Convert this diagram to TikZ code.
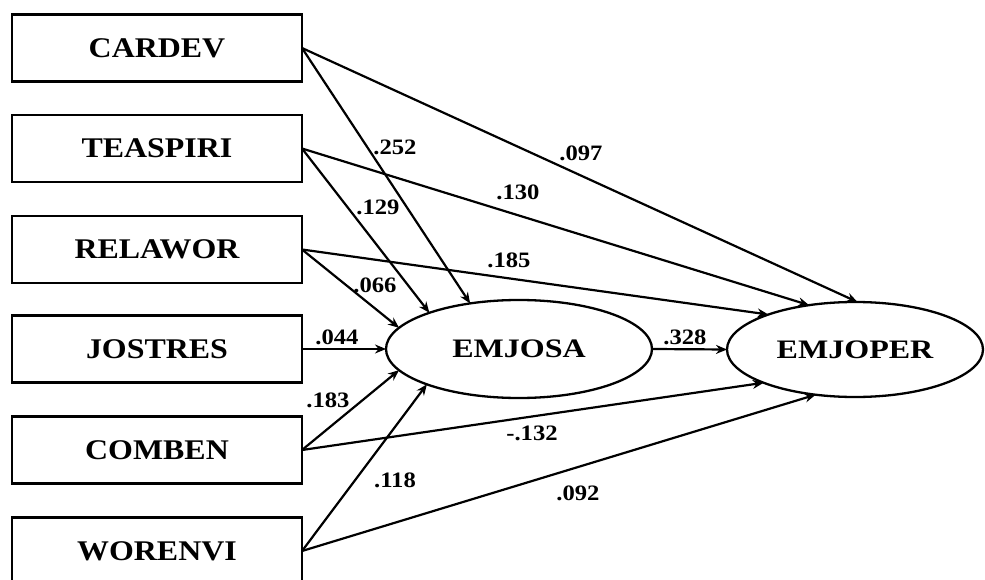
\documentclass[tikz,border=0pt]{standalone}
\usepackage{fontspec}
\usepackage{graphicx}
\setmainfont{Liberation Serif}
\usetikzlibrary{arrows.meta,shapes.geometric}
\tikzset{
  varbox/.style={draw, line width=2.7pt, minimum width=290pt, minimum height=67pt, inner sep=0pt, outer sep=0pt,
     font=\fontsize{28.5}{30}\selectfont\bfseries},
  latent/.style={draw, ellipse, line width=2.3pt, inner sep=0pt, outer sep=0pt,
     font=\fontsize{26.7}{28}\selectfont\bfseries},
  path/.style={line width=2.2pt, -{Stealth[length=11pt,width=9pt]}},
  coef/.style={inner sep=0pt, font=\fontsize{22}{24}\selectfont\bfseries}
}
\newcommand{\wide}[2]{\scalebox{#1}[1]{#2}}
\begin{document}
\begin{tikzpicture}[x=1pt,y=-1pt]
\useasboundingbox (0,0) rectangle (985,580);
\clip (0,0) rectangle (985,580);
\node[varbox] (cardev) at (157,48) {\wide{1.12}{CARDEV}};
\node[varbox] (teaspiri) at (157,148.5) {\wide{1.12}{TEASPIRI}};
\node[varbox] (relawor) at (157,249.5) {\wide{1.12}{RELAWOR}};
\node[varbox] (jostres) at (157,349) {\wide{1.12}{JOSTRES}};
\node[varbox] (comben) at (157,450) {\wide{1.12}{COMBEN}};
\node[varbox] (worenvi) at (157,551) {\wide{1.12}{WORENVI}};
\node[latent, minimum width=266pt, minimum height=98pt] (emjosa) at (519,349) {\wide{1.2}{EMJOSA}};
\node[latent, minimum width=256pt, minimum height=95pt] (emjoper) at (855,349.5) {\wide{1.2}{EMJOPER}};
% to EMJOSA
\draw[path] (cardev.east) -- (emjosa.137);
\draw[path] (teaspiri.east) -- (emjosa.158.6);
\draw[path] (relawor.east) -- (emjosa.170);
\draw[path] (jostres.east) -- (emjosa.west);
\draw[path] (comben.east) -- (emjosa.190.5);
\draw[path] (worenvi.east) -- (emjosa.201.4);
% to EMJOPER
\draw[path] (cardev.east) -- (emjoper.87.7);
\draw[path] (teaspiri.east) -- (emjoper.136.5);
\draw[path] (relawor.east) -- (emjoper.158.4);
\draw[path] (emjosa.east) -- (emjoper.west);
\draw[path] (comben.east) -- (emjoper.200);
\draw[path] (worenvi.east) -- (emjoper.229);
% coefficients
\node[coef] (c1) at (395,147) {\wide{1.12}{.252}};
\node[coef] (c2) at (378,207) {\wide{1.12}{.129}};
\node[coef] (c3) at (375,285) {\wide{1.12}{.066}};
\node[coef] (c4) at (337,337) {\wide{1.12}{.044}};
\node[coef] (c5) at (328,400) {\wide{1.12}{.183}};
\node[coef] (c6) at (395,480) {\wide{1.12}{.118}};
\node[coef] (c7) at (581,153) {\wide{1.12}{.097}};
\node[coef] (c8) at (518,192) {\wide{1.12}{.130}};
\node[coef] (c9) at (509,260) {\wide{1.12}{.185}};
\node[coef] (c10) at (685,337) {\wide{1.12}{.328}};
\node[coef] (c11) at (532,433) {\wide{1.12}{-.132}};
\node[coef] (c12) at (578,493) {\wide{1.12}{.092}};
\end{tikzpicture}
\end{document}
